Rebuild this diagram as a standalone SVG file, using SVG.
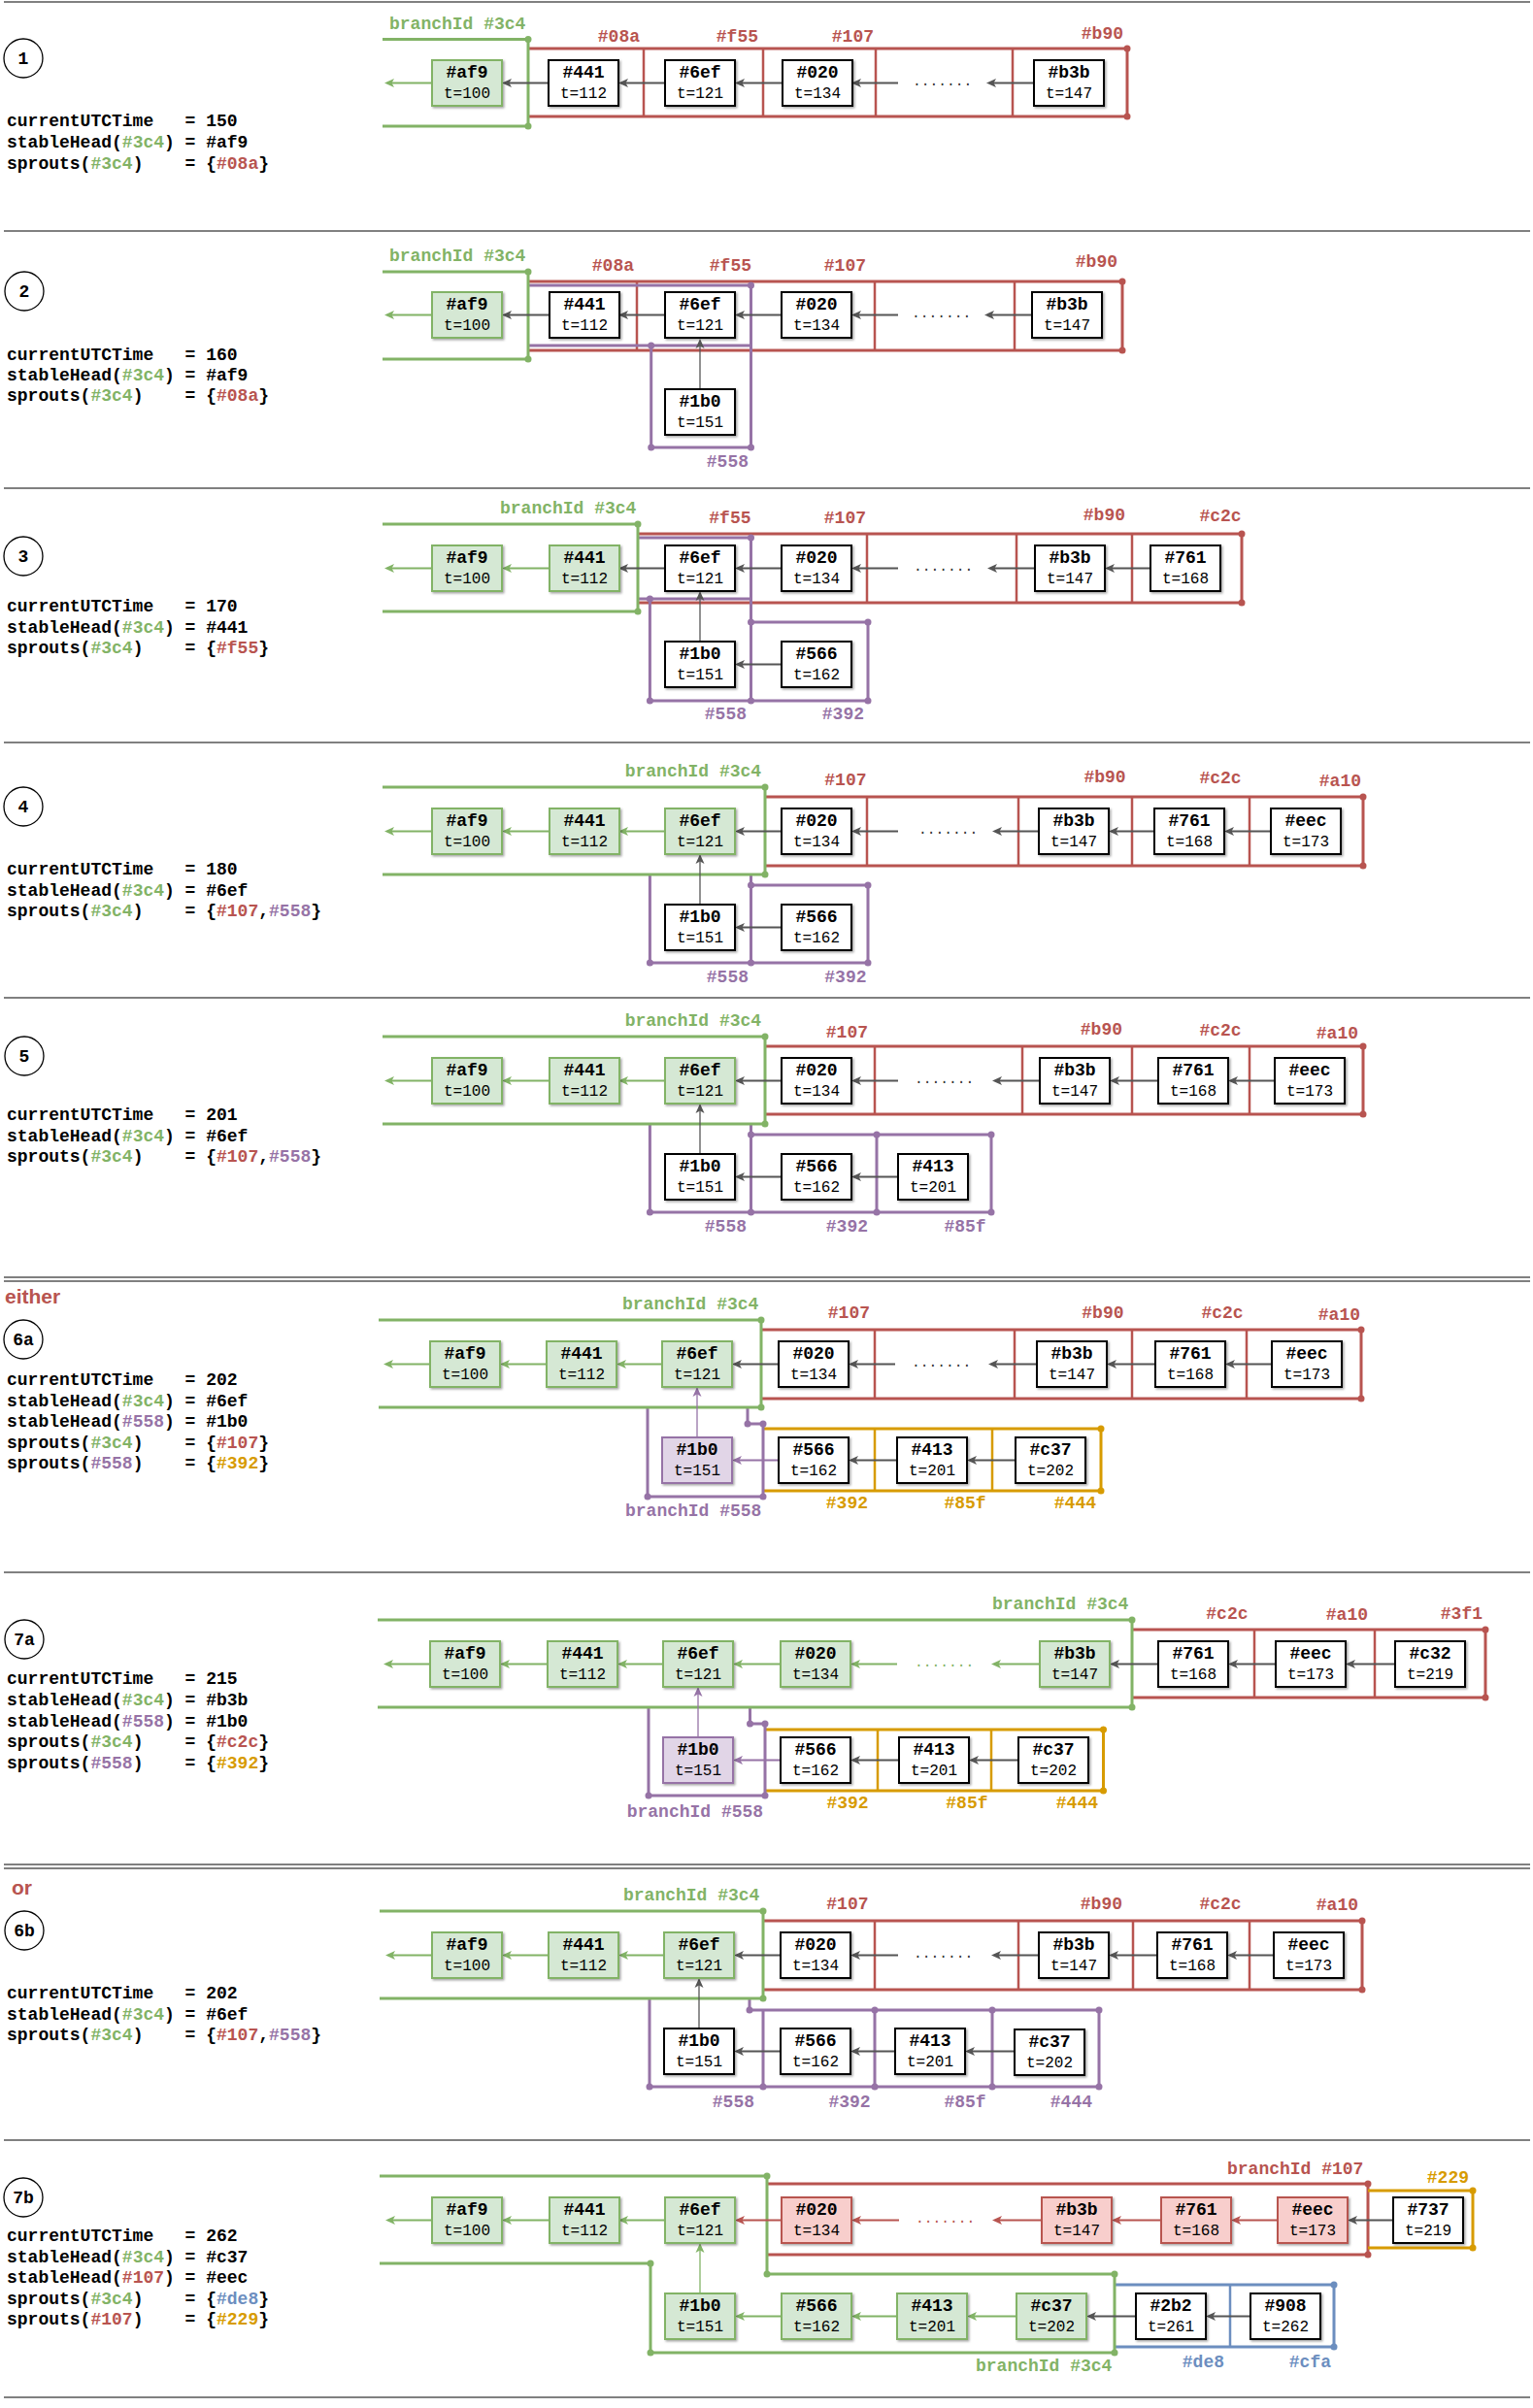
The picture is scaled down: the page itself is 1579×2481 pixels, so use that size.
<svg xmlns="http://www.w3.org/2000/svg" width="1579" height="2481" viewBox="0 0 1579 2481">
<style>
text{font-family:"Liberation Mono","DejaVu Sans Mono",monospace;}
.bg{fill:#fff}
.sep{stroke:#808080;stroke-width:2;fill:none}
.nw{fill:#fff;stroke:#000;stroke-width:2;filter:url(#sh)}
.ng{fill:#d5e8d4;stroke:#82b366;stroke-width:2;filter:url(#sh)}
.nr{fill:#f8cecc;stroke:#b85450;stroke-width:2;filter:url(#sh)}
.np{fill:#e1d5e7;stroke:#9673a6;stroke-width:2;filter:url(#sh)}
.tt{font-size:18px;font-weight:bold;text-anchor:middle;fill:#000}
.ts{font-size:16px;text-anchor:middle;fill:#000}
.lt{font-size:18px;font-weight:bold;fill:#000}
.lb{font-size:18px;font-weight:bold}
.e{text-anchor:end}
.cg{fill:#82b366}.cr{fill:#b85450}.cp{fill:#9673a6}.co{fill:#d79b00}.cb{fill:#6c8ebf}.ck{fill:#333}
.word{font-family:"Liberation Sans",Arial,sans-serif;font-size:21px;font-weight:bold;fill:#b85450}
.cir{fill:#fff;stroke:#000;stroke-width:1.3}
.lg{fill:none;stroke:#82b366;stroke-width:3}
.lr{fill:none;stroke:#b85450;stroke-width:3}
.lp{fill:none;stroke:#9673a6;stroke-width:3}
.lo{fill:none;stroke:#d79b00;stroke-width:3}
.lbl{fill:none;stroke:#6c8ebf;stroke-width:3}
.in{stroke-width:2.5}
.a{fill:none;stroke-width:2}
.ak{stroke:#555;marker-end:url(#mk)}
.ag{stroke:#82b366;marker-end:url(#mkg)}
.ap{stroke:#9673a6;marker-end:url(#mkp)}
.ar{stroke:#b85450;marker-end:url(#mkr)}
.thin{stroke-width:1.3}
.dots{font-size:14.6px}
</style>
<defs>
<filter id="sh" x="-10%" y="-10%" width="130%" height="130%"><feDropShadow dx="1.5" dy="1.5" stdDeviation="0.8" flood-color="#000" flood-opacity="0.35"/></filter>
<marker id="mk" viewBox="0 0 10 10" refX="7" refY="5" markerWidth="10" markerHeight="10" markerUnits="userSpaceOnUse" orient="auto"><path d="M0,0.5 L10,5 L0,9.5 L2.5,5 Z" fill="#555"/></marker>
<marker id="mkg" viewBox="0 0 10 10" refX="7" refY="5" markerWidth="10" markerHeight="10" markerUnits="userSpaceOnUse" orient="auto"><path d="M0,0.5 L10,5 L0,9.5 L2.5,5 Z" fill="#82b366"/></marker>
<marker id="mkp" viewBox="0 0 10 10" refX="7" refY="5" markerWidth="10" markerHeight="10" markerUnits="userSpaceOnUse" orient="auto"><path d="M0,0.5 L10,5 L0,9.5 L2.5,5 Z" fill="#9673a6"/></marker>
<marker id="mkr" viewBox="0 0 10 10" refX="7" refY="5" markerWidth="10" markerHeight="10" markerUnits="userSpaceOnUse" orient="auto"><path d="M0,0.5 L10,5 L0,9.5 L2.5,5 Z" fill="#b85450"/></marker>
</defs>
<rect class="bg" x="0" y="0" width="1579" height="2481"/>

<g id="separators">
<path class="sep" d="M4,2H1576M4,238H1576M4,503H1576M4,765H1576M4,1028H1576M4,1316H1576M4,1320H1576M4,1620H1576M4,1921H1576M4,1925H1576M4,2205H1576M4,2470H1576"/>
</g>

<g id="state-text">
<g id="s1"><circle class="cir" cx="24" cy="60" r="20"/><text class="tt" x="24" y="66">1</text>
<text class="lt" y="130"><tspan x="7">currentUTCTime</tspan><tspan x="190.6">=</tspan><tspan x="212.2">150</tspan></text>
<text class="lt" y="152"><tspan x="7">stableHead(</tspan><tspan class="cg">#3c4</tspan><tspan>)</tspan><tspan x="190.6">=</tspan><tspan x="212.2">#af9</tspan></text>
<text class="lt" y="174"><tspan x="7">sprouts(</tspan><tspan class="cg">#3c4</tspan><tspan>)</tspan><tspan x="190.6">=</tspan><tspan x="212.2">{</tspan><tspan class="cr">#08a</tspan><tspan>}</tspan></text></g>
<g id="s2"><circle class="cir" cx="25" cy="300" r="20"/><text class="tt" x="25" y="306">2</text>
<text class="lt" y="370.5"><tspan x="7">currentUTCTime</tspan><tspan x="190.6">=</tspan><tspan x="212.2">160</tspan></text>
<text class="lt" y="392"><tspan x="7">stableHead(</tspan><tspan class="cg">#3c4</tspan><tspan>)</tspan><tspan x="190.6">=</tspan><tspan x="212.2">#af9</tspan></text>
<text class="lt" y="413"><tspan x="7">sprouts(</tspan><tspan class="cg">#3c4</tspan><tspan>)</tspan><tspan x="190.6">=</tspan><tspan x="212.2">{</tspan><tspan class="cr">#08a</tspan><tspan>}</tspan></text></g>
<g id="s3"><circle class="cir" cx="24" cy="573" r="20"/><text class="tt" x="24" y="579">3</text>
<text class="lt" y="630"><tspan x="7">currentUTCTime</tspan><tspan x="190.6">=</tspan><tspan x="212.2">170</tspan></text>
<text class="lt" y="652"><tspan x="7">stableHead(</tspan><tspan class="cg">#3c4</tspan><tspan>)</tspan><tspan x="190.6">=</tspan><tspan x="212.2">#441</tspan></text>
<text class="lt" y="673"><tspan x="7">sprouts(</tspan><tspan class="cg">#3c4</tspan><tspan>)</tspan><tspan x="190.6">=</tspan><tspan x="212.2">{</tspan><tspan class="cr">#f55</tspan><tspan>}</tspan></text></g>
<g id="s4"><circle class="cir" cx="24" cy="831" r="20"/><text class="tt" x="24" y="837">4</text>
<text class="lt" y="900.5"><tspan x="7">currentUTCTime</tspan><tspan x="190.6">=</tspan><tspan x="212.2">180</tspan></text>
<text class="lt" y="922.5"><tspan x="7">stableHead(</tspan><tspan class="cg">#3c4</tspan><tspan>)</tspan><tspan x="190.6">=</tspan><tspan x="212.2">#6ef</tspan></text>
<text class="lt" y="944"><tspan x="7">sprouts(</tspan><tspan class="cg">#3c4</tspan><tspan>)</tspan><tspan x="190.6">=</tspan><tspan x="212.2">{</tspan><tspan class="cr">#107</tspan><tspan>,</tspan><tspan class="cp">#558</tspan><tspan>}</tspan></text></g>
<g id="s5"><circle class="cir" cx="25" cy="1088" r="20"/><text class="tt" x="25" y="1094">5</text>
<text class="lt" y="1154"><tspan x="7">currentUTCTime</tspan><tspan x="190.6">=</tspan><tspan x="212.2">201</tspan></text>
<text class="lt" y="1176"><tspan x="7">stableHead(</tspan><tspan class="cg">#3c4</tspan><tspan>)</tspan><tspan x="190.6">=</tspan><tspan x="212.2">#6ef</tspan></text>
<text class="lt" y="1197"><tspan x="7">sprouts(</tspan><tspan class="cg">#3c4</tspan><tspan>)</tspan><tspan x="190.6">=</tspan><tspan x="212.2">{</tspan><tspan class="cr">#107</tspan><tspan>,</tspan><tspan class="cp">#558</tspan><tspan>}</tspan></text></g>
<g id="s6a"><text class="word" x="5" y="1343">either</text><circle class="cir" cx="24" cy="1380" r="20"/><text class="tt" x="24" y="1386">6a</text>
<text class="lt" y="1426.5"><tspan x="7">currentUTCTime</tspan><tspan x="190.6">=</tspan><tspan x="212.2">202</tspan></text>
<text class="lt" y="1448.5"><tspan x="7">stableHead(</tspan><tspan class="cg">#3c4</tspan><tspan>)</tspan><tspan x="190.6">=</tspan><tspan x="212.2">#6ef</tspan></text>
<text class="lt" y="1470"><tspan x="7">stableHead(</tspan><tspan class="cp">#558</tspan><tspan>)</tspan><tspan x="190.6">=</tspan><tspan x="212.2">#1b0</tspan></text>
<text class="lt" y="1492"><tspan x="7">sprouts(</tspan><tspan class="cg">#3c4</tspan><tspan>)</tspan><tspan x="190.6">=</tspan><tspan x="212.2">{</tspan><tspan class="cr">#107</tspan><tspan>}</tspan></text>
<text class="lt" y="1513"><tspan x="7">sprouts(</tspan><tspan class="cp">#558</tspan><tspan>)</tspan><tspan x="190.6">=</tspan><tspan x="212.2">{</tspan><tspan class="co">#392</tspan><tspan>}</tspan></text></g>
<g id="s7a"><circle class="cir" cx="25" cy="1689" r="20"/><text class="tt" x="25" y="1695">7a</text>
<text class="lt" y="1735"><tspan x="7">currentUTCTime</tspan><tspan x="190.6">=</tspan><tspan x="212.2">215</tspan></text>
<text class="lt" y="1757"><tspan x="7">stableHead(</tspan><tspan class="cg">#3c4</tspan><tspan>)</tspan><tspan x="190.6">=</tspan><tspan x="212.2">#b3b</tspan></text>
<text class="lt" y="1778.5"><tspan x="7">stableHead(</tspan><tspan class="cp">#558</tspan><tspan>)</tspan><tspan x="190.6">=</tspan><tspan x="212.2">#1b0</tspan></text>
<text class="lt" y="1800"><tspan x="7">sprouts(</tspan><tspan class="cg">#3c4</tspan><tspan>)</tspan><tspan x="190.6">=</tspan><tspan x="212.2">{</tspan><tspan class="cr">#c2c</tspan><tspan>}</tspan></text>
<text class="lt" y="1821.5"><tspan x="7">sprouts(</tspan><tspan class="cp">#558</tspan><tspan>)</tspan><tspan x="190.6">=</tspan><tspan x="212.2">{</tspan><tspan class="co">#392</tspan><tspan>}</tspan></text></g>
<g id="s6b"><text class="word" x="12" y="1952">or</text><circle class="cir" cx="25" cy="1989" r="20"/><text class="tt" x="25" y="1995">6b</text>
<text class="lt" y="2058.5"><tspan x="7">currentUTCTime</tspan><tspan x="190.6">=</tspan><tspan x="212.2">202</tspan></text>
<text class="lt" y="2080.5"><tspan x="7">stableHead(</tspan><tspan class="cg">#3c4</tspan><tspan>)</tspan><tspan x="190.6">=</tspan><tspan x="212.2">#6ef</tspan></text>
<text class="lt" y="2102"><tspan x="7">sprouts(</tspan><tspan class="cg">#3c4</tspan><tspan>)</tspan><tspan x="190.6">=</tspan><tspan x="212.2">{</tspan><tspan class="cr">#107</tspan><tspan>,</tspan><tspan class="cp">#558</tspan><tspan>}</tspan></text></g>
<g id="s7b"><circle class="cir" cx="24" cy="2264" r="20"/><text class="tt" x="24" y="2270">7b</text>
<text class="lt" y="2309"><tspan x="7">currentUTCTime</tspan><tspan x="190.6">=</tspan><tspan x="212.2">262</tspan></text>
<text class="lt" y="2330.5"><tspan x="7">stableHead(</tspan><tspan class="cg">#3c4</tspan><tspan>)</tspan><tspan x="190.6">=</tspan><tspan x="212.2">#c37</tspan></text>
<text class="lt" y="2352"><tspan x="7">stableHead(</tspan><tspan class="cr">#107</tspan><tspan>)</tspan><tspan x="190.6">=</tspan><tspan x="212.2">#eec</tspan></text>
<text class="lt" y="2373.5"><tspan x="7">sprouts(</tspan><tspan class="cg">#3c4</tspan><tspan>)</tspan><tspan x="190.6">=</tspan><tspan x="212.2">{</tspan><tspan class="cb">#de8</tspan><tspan>}</tspan></text>
<text class="lt" y="2395"><tspan x="7">sprouts(</tspan><tspan class="cr">#107</tspan><tspan>)</tspan><tspan x="190.6">=</tspan><tspan x="212.2">{</tspan><tspan class="co">#229</tspan><tspan>}</tspan></text></g>
</g>

<g id="regions">
<!-- P1 -->
<polyline class="lr" points="544,50 1161,50 1161,120 544,120"/>
<path class="lr in" d="M663,50V120M786,50V120M902,50V120M1043,50V120"/>
<polyline class="lg" points="394,40.5 544,40.5 544,130 394,130"/>
<g class="cr"><circle cx="1161" cy="50" r="3.5"/><circle cx="1161" cy="120" r="3.5"/></g>
<g class="cg"><circle cx="544" cy="40.5" r="3.5"/><circle cx="544" cy="130" r="3.5"/></g>
<!-- P2 -->
<polyline class="lr" points="544,290 1156,290 1156,361 544,361"/>
<path class="lr in" d="M656,290V361M901,290V361M1045,290V361"/>
<path class="lp" d="M544,294H773.5V461H670.7V356M544,356H773.5"/>
<polyline class="lg" points="394,280 544,280 544,370 394,370"/>
<g class="cr"><circle cx="1156" cy="290" r="3.5"/><circle cx="1156" cy="361" r="3.5"/></g>
<g class="cp"><circle cx="773.5" cy="294" r="3.5"/><circle cx="670.7" cy="356" r="3.5"/><circle cx="670.7" cy="461" r="3.5"/><circle cx="773.5" cy="461" r="3.5"/></g>
<g class="cg"><circle cx="544" cy="280" r="3.5"/><circle cx="544" cy="370" r="3.5"/></g>
<!-- P3 -->
<polyline class="lr" points="657,550 1279,550 1279,621 657,621"/>
<path class="lr in" d="M893,550V621M1047,550V621M1166,550V621"/>
<path class="lp" d="M657,554H773.5V722M657,617H773.5M669.4,617V722H894V641H773.5"/>
<polyline class="lg" points="394,540 657,540 657,630 394,630"/>
<g class="cr"><circle cx="1279" cy="550" r="3.5"/><circle cx="1279" cy="621" r="3.5"/></g>
<g class="cp"><circle cx="773.5" cy="554" r="3.5"/><circle cx="669.4" cy="617" r="3.5"/><circle cx="773.5" cy="641" r="3.5"/><circle cx="894" cy="641" r="3.5"/><circle cx="669.4" cy="722" r="3.5"/><circle cx="773.5" cy="722" r="3.5"/><circle cx="894" cy="722" r="3.5"/></g>
<g class="cg"><circle cx="657" cy="540" r="3.5"/><circle cx="657" cy="630" r="3.5"/></g>
<!-- P4 -->
<polyline class="lr" points="788,821 1404,821 1404,892 788,892"/>
<path class="lr in" d="M893,821V892M1049,821V892M1166,821V892M1287,821V892"/>
<path class="lp" d="M669.4,901V992H894V912H773.5M773.5,901V992"/>
<polyline class="lg" points="394,811 788,811 788,901 394,901"/>
<g class="cr"><circle cx="1404" cy="821" r="3.5"/><circle cx="1404" cy="892" r="3.5"/></g>
<g class="cp"><circle cx="773.5" cy="912" r="3.5"/><circle cx="894" cy="912" r="3.5"/><circle cx="669.4" cy="992" r="3.5"/><circle cx="773.5" cy="992" r="3.5"/><circle cx="894" cy="992" r="3.5"/></g>
<g class="cg"><circle cx="788" cy="811" r="3.5"/><circle cx="788" cy="901" r="3.5"/></g>
<!-- P5 -->
<polyline class="lr" points="788,1078 1404,1078 1404,1148 788,1148"/>
<path class="lr in" d="M901,1078V1148M1053,1078V1148M1166,1078V1148M1287,1078V1148"/>
<path class="lp" d="M669.4,1158V1249H1021V1169H773.5M773.5,1158V1249M903,1169V1249"/>
<polyline class="lg" points="394,1068 788,1068 788,1158 394,1158"/>
<g class="cr"><circle cx="1404" cy="1078" r="3.5"/><circle cx="1404" cy="1148" r="3.5"/></g>
<g class="cp"><circle cx="773.5" cy="1169" r="3.5"/><circle cx="903" cy="1169" r="3.5"/><circle cx="1021" cy="1169" r="3.5"/><circle cx="669.4" cy="1249" r="3.5"/><circle cx="773.5" cy="1249" r="3.5"/><circle cx="903" cy="1249" r="3.5"/><circle cx="1021" cy="1249" r="3.5"/></g>
<g class="cg"><circle cx="788" cy="1068" r="3.5"/><circle cx="788" cy="1158" r="3.5"/></g>
<!-- 6a -->
<polyline class="lr" points="784,1370 1402,1370 1402,1441 784,1441"/>
<path class="lr in" d="M901,1370V1441M1045,1370V1441M1166,1370V1441M1284,1370V1441"/>
<polyline class="lo" points="786,1472 1134,1472 1134,1536 786,1536"/>
<path class="lo in" d="M901,1472V1536M1022,1472V1536"/>
<path class="lp" d="M667,1450V1542H786V1467H770V1450"/>
<polyline class="lg" points="390,1360 784,1360 784,1450 390,1450"/>
<g class="cr"><circle cx="1402" cy="1370" r="3.5"/><circle cx="1402" cy="1441" r="3.5"/></g>
<g class="co"><circle cx="1134" cy="1472" r="3.5"/><circle cx="1134" cy="1536" r="3.5"/></g>
<g class="cp"><circle cx="770" cy="1467" r="3.5"/><circle cx="786" cy="1467" r="3.5"/><circle cx="667" cy="1542" r="3.5"/><circle cx="786" cy="1542" r="3.5"/></g>
<g class="cg"><circle cx="784" cy="1360" r="3.5"/><circle cx="784" cy="1450" r="3.5"/></g>
<!-- 7a -->
<polyline class="lr" points="1166,1679 1530,1679 1530,1749 1166,1749"/>
<path class="lr in" d="M1292,1679V1749M1416,1679V1749"/>
<polyline class="lo" points="788,1782 1136.5,1782 1136.5,1845 788,1845"/>
<path class="lo in" d="M904,1782V1845M1021,1782V1845"/>
<path class="lp" d="M668,1759V1850H788V1776H772.5V1759"/>
<polyline class="lg" points="389,1669 1166,1669 1166,1759 389,1759"/>
<g class="cr"><circle cx="1530" cy="1679" r="3.5"/><circle cx="1530" cy="1749" r="3.5"/></g>
<g class="co"><circle cx="1136.5" cy="1782" r="3.5"/><circle cx="1136.5" cy="1845" r="3.5"/></g>
<g class="cp"><circle cx="772.5" cy="1776" r="3.5"/><circle cx="788" cy="1776" r="3.5"/><circle cx="668" cy="1850" r="3.5"/><circle cx="788" cy="1850" r="3.5"/></g>
<g class="cg"><circle cx="1166" cy="1669" r="3.5"/><circle cx="1166" cy="1759" r="3.5"/></g>
<!-- 6b -->
<polyline class="lr" points="786,1979 1403,1979 1403,2050 786,2050"/>
<path class="lr in" d="M901,1979V2050M1049,1979V2050M1167,1979V2050M1287,1979V2050"/>
<path class="lp" d="M669,2059V2150H1132V2071H772V2059M786,2071V2150M901,2071V2150M1022,2071V2150"/>
<polyline class="lg" points="391,1969 786,1969 786,2059 391,2059"/>
<g class="cr"><circle cx="1403" cy="1979" r="3.5"/><circle cx="1403" cy="2050" r="3.5"/></g>
<g class="cp"><circle cx="772" cy="2071" r="3.5"/><circle cx="901" cy="2071" r="3.5"/><circle cx="1022" cy="2071" r="3.5"/><circle cx="1132" cy="2071" r="3.5"/><circle cx="669" cy="2150" r="3.5"/><circle cx="786" cy="2150" r="3.5"/><circle cx="901" cy="2150" r="3.5"/><circle cx="1022" cy="2150" r="3.5"/><circle cx="1132" cy="2150" r="3.5"/></g>
<g class="cg"><circle cx="786" cy="1969" r="3.5"/><circle cx="786" cy="2059" r="3.5"/></g>
<!-- 7b -->
<polyline class="lr" points="790,2250 1409,2250 1409,2323 790,2323"/>
<polyline class="lo" points="1409,2257 1517,2257 1517,2316 1409,2316"/>
<polyline class="lbl" points="1148,2354 1374,2354 1374,2418 1148,2418"/>
<path class="lbl in" d="M1267,2354V2418"/>
<polyline class="lg" points="391,2242 790,2242 790,2343 1148,2343 1148,2424 670,2424 670,2332 391,2332"/>
<g class="cr"><circle cx="1409" cy="2250" r="3.5"/><circle cx="1409" cy="2323" r="3.5"/></g>
<g class="co"><circle cx="1517" cy="2257" r="3.5"/><circle cx="1517" cy="2316" r="3.5"/></g>
<g class="cb"><circle cx="1374" cy="2354" r="3.5"/><circle cx="1374" cy="2418" r="3.5"/></g>
<g class="cg"><circle cx="790" cy="2242" r="3.5"/><circle cx="790" cy="2343" r="3.5"/><circle cx="1148" cy="2343" r="3.5"/><circle cx="1148" cy="2424" r="3.5"/><circle cx="670" cy="2424" r="3.5"/><circle cx="670" cy="2332" r="3.5"/></g>
</g>

<g id="region-labels">
<text class="lb cg" x="401" y="30">branchId #3c4</text>
<text class="lb cr e" x="659" y="43">#08a</text><text class="lb cr e" x="781" y="43">#f55</text><text class="lb cr e" x="900" y="43">#107</text><text class="lb cr e" x="1157" y="40">#b90</text>

<text class="lb cg" x="401" y="269">branchId #3c4</text>
<text class="lb cr e" x="653" y="279">#08a</text><text class="lb cr e" x="774" y="279">#f55</text><text class="lb cr e" x="892" y="279">#107</text><text class="lb cr e" x="1151" y="275">#b90</text>
<text class="lb cp e" x="771" y="481">#558</text>

<text class="lb cg" x="515" y="529">branchId #3c4</text>
<text class="lb cr e" x="773.5" y="539">#f55</text><text class="lb cr e" x="892" y="539">#107</text><text class="lb cr e" x="1159" y="536">#b90</text><text class="lb cr e" x="1278.6" y="537">#c2c</text>
<text class="lb cp e" x="769" y="741">#558</text><text class="lb cp e" x="890" y="741">#392</text>

<text class="lb cg" x="643.7" y="800">branchId #3c4</text>
<text class="lb cr e" x="892.5" y="809">#107</text><text class="lb cr e" x="1159.6" y="806">#b90</text><text class="lb cr e" x="1278.6" y="807">#c2c</text><text class="lb cr e" x="1402" y="810">#a10</text>
<text class="lb cp e" x="771" y="1012">#558</text><text class="lb cp e" x="892.5" y="1012">#392</text>

<text class="lb cg" x="643.7" y="1057">branchId #3c4</text>
<text class="lb cr e" x="894" y="1069">#107</text><text class="lb cr e" x="1156" y="1066">#b90</text><text class="lb cr e" x="1278.6" y="1067">#c2c</text><text class="lb cr e" x="1399" y="1070">#a10</text>
<text class="lb cp e" x="769" y="1269">#558</text><text class="lb cp e" x="894" y="1269">#392</text><text class="lb cp e" x="1015.6" y="1269">#85f</text>

<text class="lb cg" x="641" y="1349">branchId #3c4</text>
<text class="lb cr e" x="896" y="1358">#107</text><text class="lb cr e" x="1157.5" y="1358">#b90</text><text class="lb cr e" x="1280.6" y="1358">#c2c</text><text class="lb cr e" x="1401" y="1360">#a10</text>
<text class="lb co e" x="894" y="1554">#392</text><text class="lb co e" x="1015.6" y="1554">#85f</text><text class="lb co e" x="1129" y="1554">#444</text>
<text class="lb cp" x="644" y="1562">branchId #558</text>

<text class="lb cg" x="1022" y="1658">branchId #3c4</text>
<text class="lb cr e" x="1285.5" y="1668">#c2c</text><text class="lb cr e" x="1409" y="1669">#a10</text><text class="lb cr e" x="1527" y="1668">#3f1</text>
<text class="lb co e" x="894.6" y="1863">#392</text><text class="lb co e" x="1017.5" y="1863">#85f</text><text class="lb co e" x="1131" y="1863">#444</text>
<text class="lb cp" x="645.7" y="1872">branchId #558</text>

<text class="lb cg" x="642" y="1958">branchId #3c4</text>
<text class="lb cr e" x="894.5" y="1967">#107</text><text class="lb cr e" x="1156" y="1967">#b90</text><text class="lb cr e" x="1278.6" y="1967">#c2c</text><text class="lb cr e" x="1399" y="1968">#a10</text>
<text class="lb cp e" x="777" y="2171">#558</text><text class="lb cp e" x="896.6" y="2171">#392</text><text class="lb cp e" x="1015.6" y="2171">#85f</text><text class="lb cp e" x="1125" y="2171">#444</text>

<text class="lb cr" x="1264" y="2240">branchId #107</text>
<text class="lb co e" x="1513" y="2249">#229</text>
<text class="lb cb e" x="1261" y="2439">#de8</text><text class="lb cb e" x="1371" y="2439">#cfa</text>
<text class="lb cg" x="1005" y="2443">branchId #3c4</text>
</g>

<g id="connectors">
<path class="a ag" d="M445,85.5H399"/>
<path class="a ak" d="M565,85.5H520"/><path class="a ak" d="M685,85.5H640"/><path class="a ak" d="M806,85.5H760"/><path class="a ak" d="M925,85.5H880"/><path class="a ak" d="M1065,85.5H1019"/>

<path class="a ag" d="M445,324.5H399"/>
<path class="a ak" d="M566,324.5H520"/><path class="a ak" d="M685,324.5H640"/><path class="a ak" d="M805,324.5H760"/><path class="a ak" d="M925,324.5H880"/><path class="a ak" d="M1063,324.5H1017"/>
<path class="a ak thin" d="M721,401V352"/>

<path class="a ag" d="M445,585.5H399"/><path class="a ag" d="M566,585.5H520"/>
<path class="a ak" d="M685,585.5H640"/><path class="a ak" d="M805,585.5H760"/><path class="a ak" d="M925,585.5H880"/><path class="a ak" d="M1066,585.5H1020"/><path class="a ak" d="M1185,585.5H1141"/>
<path class="a ak" d="M805,684.5H760"/>
<path class="a ak thin" d="M721,661V612"/>

<path class="a ag" d="M445,856.5H399"/><path class="a ag" d="M566,856.5H520"/><path class="a ag" d="M685,856.5H640"/>
<path class="a ak" d="M805,856.5H760"/><path class="a ak" d="M925,856.5H880"/><path class="a ak" d="M1070,856.5H1025"/><path class="a ak" d="M1189,856.5H1145"/><path class="a ak" d="M1309,856.5H1264"/>
<path class="a ak" d="M805,955.5H760"/>
<path class="a ak thin" d="M721,932V883"/>

<path class="a ag" d="M445,1113.5H399"/><path class="a ag" d="M566,1113.5H520"/><path class="a ag" d="M685,1113.5H640"/>
<path class="a ak" d="M805,1113.5H760"/><path class="a ak" d="M925,1113.5H880"/><path class="a ak" d="M1071,1113.5H1025"/><path class="a ak" d="M1193,1113.5H1146"/><path class="a ak" d="M1313,1113.5H1268"/>
<path class="a ak" d="M805,1212.5H760"/><path class="a ak" d="M925,1212.5H880"/>
<path class="a ak thin" d="M721,1189V1140"/>

<path class="a ag" d="M443,1405.5H398"/><path class="a ag" d="M563,1405.5H518"/><path class="a ag" d="M682,1405.5H638"/>
<path class="a ak" d="M802,1405.5H757"/><path class="a ak" d="M922,1405.5H877"/><path class="a ak" d="M1068,1405.5H1021"/><path class="a ak" d="M1190,1405.5H1143"/><path class="a ak" d="M1310,1405.5H1265"/>
<path class="a ap" d="M802,1504.5H757"/><path class="a ak" d="M924,1504.5H877"/><path class="a ak" d="M1046,1504.5H999"/>
<path class="a ap thin" d="M718,1481V1432"/>

<path class="a ag" d="M443,1714.5H398"/><path class="a ag" d="M564,1714.5H518"/><path class="a ag" d="M683,1714.5H639"/><path class="a ag" d="M804,1714.5H758"/><path class="a ag" d="M924,1714.5H879"/><path class="a ag" d="M1071,1714.5H1024"/>
<path class="a ak" d="M1193,1714.5H1146"/><path class="a ak" d="M1314,1714.5H1268"/><path class="a ak" d="M1437,1714.5H1389"/>
<path class="a ap" d="M804,1813.5H758"/><path class="a ak" d="M926,1813.5H879"/><path class="a ak" d="M1049,1813.5H1001"/>
<path class="a ap thin" d="M719,1790V1741"/>

<path class="a ag" d="M445,2014.5H400"/><path class="a ag" d="M565,2014.5H520"/><path class="a ag" d="M684,2014.5H640"/>
<path class="a ak" d="M804,2014.5H759"/><path class="a ak" d="M925,2014.5H879"/><path class="a ak" d="M1070,2014.5H1024"/><path class="a ak" d="M1192,2014.5H1145"/><path class="a ak" d="M1312,2014.5H1267"/>
<path class="a ak" d="M804,2113.5H759"/><path class="a ak" d="M922,2113.5H879"/><path class="a ak" d="M1045,2113.5H997"/>
<path class="a ak thin" d="M720,2090V2041"/>

<path class="a ag" d="M445,2287.5H400"/><path class="a ag" d="M566,2287.5H520"/><path class="a ag" d="M685,2287.5H640"/>
<path class="a ar" d="M805,2287.5H760"/><path class="a ar" d="M926,2287.5H880"/><path class="a ar" d="M1073,2287.5H1025"/><path class="a ar" d="M1196,2287.5H1148"/><path class="a ar" d="M1316,2287.5H1271"/>
<path class="a ak" d="M1435,2287.5H1391"/>
<path class="a ag" d="M805,2386.5H760"/><path class="a ag" d="M924,2386.5H880"/><path class="a ag" d="M1047,2386.5H999"/>
<path class="a ak" d="M1170,2386.5H1122"/><path class="a ak" d="M1288,2386.5H1245"/>
<path class="a ag thin" d="M721,2363V2314"/>

<text class="dots ck" x="940" y="87.5">.......</text>
<text class="dots ck" x="939" y="326.5">.......</text>
<text class="dots ck" x="941" y="587.5">.......</text>
<text class="dots ck" x="946" y="858.5">.......</text>
<text class="dots ck" x="942" y="1115.5">.......</text>
<text class="dots ck" x="939" y="1407.5">.......</text>
<text class="dots cg" x="942" y="1716.5">.......</text>
<text class="dots ck" x="941" y="2016.5">.......</text>
<text class="dots cr" x="943" y="2289.5">.......</text>
</g>

<g id="nodes">
<g id="p1-af9"><rect class="ng" x="445" y="62" width="72" height="47"/><text class="tt" x="481" y="79.5">#af9</text><text class="ts" x="481" y="101">t=100</text></g>
<g id="p1-441"><rect class="nw" x="565" y="62" width="72" height="47"/><text class="tt" x="601" y="79.5">#441</text><text class="ts" x="601" y="101">t=112</text></g>
<g id="p1-6ef"><rect class="nw" x="685" y="62" width="72" height="47"/><text class="tt" x="721" y="79.5">#6ef</text><text class="ts" x="721" y="101">t=121</text></g>
<g id="p1-020"><rect class="nw" x="806" y="62" width="72" height="47"/><text class="tt" x="842" y="79.5">#020</text><text class="ts" x="842" y="101">t=134</text></g>
<g id="p1-b3b"><rect class="nw" x="1065" y="62" width="72" height="47"/><text class="tt" x="1101" y="79.5">#b3b</text><text class="ts" x="1101" y="101">t=147</text></g>

<g id="p2-af9"><rect class="ng" x="445" y="301" width="72" height="47"/><text class="tt" x="481" y="318.5">#af9</text><text class="ts" x="481" y="340">t=100</text></g>
<g id="p2-441"><rect class="nw" x="566" y="301" width="72" height="47"/><text class="tt" x="602" y="318.5">#441</text><text class="ts" x="602" y="340">t=112</text></g>
<g id="p2-6ef"><rect class="nw" x="685" y="301" width="72" height="47"/><text class="tt" x="721" y="318.5">#6ef</text><text class="ts" x="721" y="340">t=121</text></g>
<g id="p2-020"><rect class="nw" x="805" y="301" width="72" height="47"/><text class="tt" x="841" y="318.5">#020</text><text class="ts" x="841" y="340">t=134</text></g>
<g id="p2-b3b"><rect class="nw" x="1063" y="301" width="72" height="47"/><text class="tt" x="1099" y="318.5">#b3b</text><text class="ts" x="1099" y="340">t=147</text></g>
<g id="p2-1b0"><rect class="nw" x="685" y="401" width="72" height="47"/><text class="tt" x="721" y="418.5">#1b0</text><text class="ts" x="721" y="440">t=151</text></g>

<g id="p3-af9"><rect class="ng" x="445" y="562" width="72" height="47"/><text class="tt" x="481" y="579.5">#af9</text><text class="ts" x="481" y="601">t=100</text></g>
<g id="p3-441"><rect class="ng" x="566" y="562" width="72" height="47"/><text class="tt" x="602" y="579.5">#441</text><text class="ts" x="602" y="601">t=112</text></g>
<g id="p3-6ef"><rect class="nw" x="685" y="562" width="72" height="47"/><text class="tt" x="721" y="579.5">#6ef</text><text class="ts" x="721" y="601">t=121</text></g>
<g id="p3-020"><rect class="nw" x="805" y="562" width="72" height="47"/><text class="tt" x="841" y="579.5">#020</text><text class="ts" x="841" y="601">t=134</text></g>
<g id="p3-b3b"><rect class="nw" x="1066" y="562" width="72" height="47"/><text class="tt" x="1102" y="579.5">#b3b</text><text class="ts" x="1102" y="601">t=147</text></g>
<g id="p3-761"><rect class="nw" x="1185" y="562" width="72" height="47"/><text class="tt" x="1221" y="579.5">#761</text><text class="ts" x="1221" y="601">t=168</text></g>
<g id="p3-1b0"><rect class="nw" x="685" y="661" width="72" height="47"/><text class="tt" x="721" y="678.5">#1b0</text><text class="ts" x="721" y="700">t=151</text></g>
<g id="p3-566"><rect class="nw" x="805" y="661" width="72" height="47"/><text class="tt" x="841" y="678.5">#566</text><text class="ts" x="841" y="700">t=162</text></g>

<g id="p4-af9"><rect class="ng" x="445" y="833" width="72" height="47"/><text class="tt" x="481" y="850.5">#af9</text><text class="ts" x="481" y="872">t=100</text></g>
<g id="p4-441"><rect class="ng" x="566" y="833" width="72" height="47"/><text class="tt" x="602" y="850.5">#441</text><text class="ts" x="602" y="872">t=112</text></g>
<g id="p4-6ef"><rect class="ng" x="685" y="833" width="72" height="47"/><text class="tt" x="721" y="850.5">#6ef</text><text class="ts" x="721" y="872">t=121</text></g>
<g id="p4-020"><rect class="nw" x="805" y="833" width="72" height="47"/><text class="tt" x="841" y="850.5">#020</text><text class="ts" x="841" y="872">t=134</text></g>
<g id="p4-b3b"><rect class="nw" x="1070" y="833" width="72" height="47"/><text class="tt" x="1106" y="850.5">#b3b</text><text class="ts" x="1106" y="872">t=147</text></g>
<g id="p4-761"><rect class="nw" x="1189" y="833" width="72" height="47"/><text class="tt" x="1225" y="850.5">#761</text><text class="ts" x="1225" y="872">t=168</text></g>
<g id="p4-eec"><rect class="nw" x="1309" y="833" width="72" height="47"/><text class="tt" x="1345" y="850.5">#eec</text><text class="ts" x="1345" y="872">t=173</text></g>
<g id="p4-1b0"><rect class="nw" x="685" y="932" width="72" height="47"/><text class="tt" x="721" y="949.5">#1b0</text><text class="ts" x="721" y="971">t=151</text></g>
<g id="p4-566"><rect class="nw" x="805" y="932" width="72" height="47"/><text class="tt" x="841" y="949.5">#566</text><text class="ts" x="841" y="971">t=162</text></g>

<g id="p5-af9"><rect class="ng" x="445" y="1090" width="72" height="47"/><text class="tt" x="481" y="1107.5">#af9</text><text class="ts" x="481" y="1129">t=100</text></g>
<g id="p5-441"><rect class="ng" x="566" y="1090" width="72" height="47"/><text class="tt" x="602" y="1107.5">#441</text><text class="ts" x="602" y="1129">t=112</text></g>
<g id="p5-6ef"><rect class="ng" x="685" y="1090" width="72" height="47"/><text class="tt" x="721" y="1107.5">#6ef</text><text class="ts" x="721" y="1129">t=121</text></g>
<g id="p5-020"><rect class="nw" x="805" y="1090" width="72" height="47"/><text class="tt" x="841" y="1107.5">#020</text><text class="ts" x="841" y="1129">t=134</text></g>
<g id="p5-b3b"><rect class="nw" x="1071" y="1090" width="72" height="47"/><text class="tt" x="1107" y="1107.5">#b3b</text><text class="ts" x="1107" y="1129">t=147</text></g>
<g id="p5-761"><rect class="nw" x="1193" y="1090" width="72" height="47"/><text class="tt" x="1229" y="1107.5">#761</text><text class="ts" x="1229" y="1129">t=168</text></g>
<g id="p5-eec"><rect class="nw" x="1313" y="1090" width="72" height="47"/><text class="tt" x="1349" y="1107.5">#eec</text><text class="ts" x="1349" y="1129">t=173</text></g>
<g id="p5-1b0"><rect class="nw" x="685" y="1189" width="72" height="47"/><text class="tt" x="721" y="1206.5">#1b0</text><text class="ts" x="721" y="1228">t=151</text></g>
<g id="p5-566"><rect class="nw" x="805" y="1189" width="72" height="47"/><text class="tt" x="841" y="1206.5">#566</text><text class="ts" x="841" y="1228">t=162</text></g>
<g id="p5-413"><rect class="nw" x="925" y="1189" width="72" height="47"/><text class="tt" x="961" y="1206.5">#413</text><text class="ts" x="961" y="1228">t=201</text></g>

<g id="p6a-af9"><rect class="ng" x="443" y="1382" width="72" height="47"/><text class="tt" x="479" y="1399.5">#af9</text><text class="ts" x="479" y="1421">t=100</text></g>
<g id="p6a-441"><rect class="ng" x="563" y="1382" width="72" height="47"/><text class="tt" x="599" y="1399.5">#441</text><text class="ts" x="599" y="1421">t=112</text></g>
<g id="p6a-6ef"><rect class="ng" x="682" y="1382" width="72" height="47"/><text class="tt" x="718" y="1399.5">#6ef</text><text class="ts" x="718" y="1421">t=121</text></g>
<g id="p6a-020"><rect class="nw" x="802" y="1382" width="72" height="47"/><text class="tt" x="838" y="1399.5">#020</text><text class="ts" x="838" y="1421">t=134</text></g>
<g id="p6a-b3b"><rect class="nw" x="1068" y="1382" width="72" height="47"/><text class="tt" x="1104" y="1399.5">#b3b</text><text class="ts" x="1104" y="1421">t=147</text></g>
<g id="p6a-761"><rect class="nw" x="1190" y="1382" width="72" height="47"/><text class="tt" x="1226" y="1399.5">#761</text><text class="ts" x="1226" y="1421">t=168</text></g>
<g id="p6a-eec"><rect class="nw" x="1310" y="1382" width="72" height="47"/><text class="tt" x="1346" y="1399.5">#eec</text><text class="ts" x="1346" y="1421">t=173</text></g>
<g id="p6a-1b0"><rect class="np" x="682" y="1481" width="72" height="47"/><text class="tt" x="718" y="1498.5">#1b0</text><text class="ts" x="718" y="1520">t=151</text></g>
<g id="p6a-566"><rect class="nw" x="802" y="1481" width="72" height="47"/><text class="tt" x="838" y="1498.5">#566</text><text class="ts" x="838" y="1520">t=162</text></g>
<g id="p6a-413"><rect class="nw" x="924" y="1481" width="72" height="47"/><text class="tt" x="960" y="1498.5">#413</text><text class="ts" x="960" y="1520">t=201</text></g>
<g id="p6a-c37"><rect class="nw" x="1046" y="1481" width="72" height="47"/><text class="tt" x="1082" y="1498.5">#c37</text><text class="ts" x="1082" y="1520">t=202</text></g>

<g id="p7a-af9"><rect class="ng" x="443" y="1691" width="72" height="47"/><text class="tt" x="479" y="1708.5">#af9</text><text class="ts" x="479" y="1730">t=100</text></g>
<g id="p7a-441"><rect class="ng" x="564" y="1691" width="72" height="47"/><text class="tt" x="600" y="1708.5">#441</text><text class="ts" x="600" y="1730">t=112</text></g>
<g id="p7a-6ef"><rect class="ng" x="683" y="1691" width="72" height="47"/><text class="tt" x="719" y="1708.5">#6ef</text><text class="ts" x="719" y="1730">t=121</text></g>
<g id="p7a-020"><rect class="ng" x="804" y="1691" width="72" height="47"/><text class="tt" x="840" y="1708.5">#020</text><text class="ts" x="840" y="1730">t=134</text></g>
<g id="p7a-b3b"><rect class="ng" x="1071" y="1691" width="72" height="47"/><text class="tt" x="1107" y="1708.5">#b3b</text><text class="ts" x="1107" y="1730">t=147</text></g>
<g id="p7a-761"><rect class="nw" x="1193" y="1691" width="72" height="47"/><text class="tt" x="1229" y="1708.5">#761</text><text class="ts" x="1229" y="1730">t=168</text></g>
<g id="p7a-eec"><rect class="nw" x="1314" y="1691" width="72" height="47"/><text class="tt" x="1350" y="1708.5">#eec</text><text class="ts" x="1350" y="1730">t=173</text></g>
<g id="p7a-c32"><rect class="nw" x="1437" y="1691" width="72" height="47"/><text class="tt" x="1473" y="1708.5">#c32</text><text class="ts" x="1473" y="1730">t=219</text></g>
<g id="p7a-1b0"><rect class="np" x="683" y="1790" width="72" height="47"/><text class="tt" x="719" y="1807.5">#1b0</text><text class="ts" x="719" y="1829">t=151</text></g>
<g id="p7a-566"><rect class="nw" x="804" y="1790" width="72" height="47"/><text class="tt" x="840" y="1807.5">#566</text><text class="ts" x="840" y="1829">t=162</text></g>
<g id="p7a-413"><rect class="nw" x="926" y="1790" width="72" height="47"/><text class="tt" x="962" y="1807.5">#413</text><text class="ts" x="962" y="1829">t=201</text></g>
<g id="p7a-c37"><rect class="nw" x="1049" y="1790" width="72" height="47"/><text class="tt" x="1085" y="1807.5">#c37</text><text class="ts" x="1085" y="1829">t=202</text></g>

<g id="p6b-af9"><rect class="ng" x="445" y="1991" width="72" height="47"/><text class="tt" x="481" y="2008.5">#af9</text><text class="ts" x="481" y="2030">t=100</text></g>
<g id="p6b-441"><rect class="ng" x="565" y="1991" width="72" height="47"/><text class="tt" x="601" y="2008.5">#441</text><text class="ts" x="601" y="2030">t=112</text></g>
<g id="p6b-6ef"><rect class="ng" x="684" y="1991" width="72" height="47"/><text class="tt" x="720" y="2008.5">#6ef</text><text class="ts" x="720" y="2030">t=121</text></g>
<g id="p6b-020"><rect class="nw" x="804" y="1991" width="72" height="47"/><text class="tt" x="840" y="2008.5">#020</text><text class="ts" x="840" y="2030">t=134</text></g>
<g id="p6b-b3b"><rect class="nw" x="1070" y="1991" width="72" height="47"/><text class="tt" x="1106" y="2008.5">#b3b</text><text class="ts" x="1106" y="2030">t=147</text></g>
<g id="p6b-761"><rect class="nw" x="1192" y="1991" width="72" height="47"/><text class="tt" x="1228" y="2008.5">#761</text><text class="ts" x="1228" y="2030">t=168</text></g>
<g id="p6b-eec"><rect class="nw" x="1312" y="1991" width="72" height="47"/><text class="tt" x="1348" y="2008.5">#eec</text><text class="ts" x="1348" y="2030">t=173</text></g>
<g id="p6b-1b0"><rect class="nw" x="684" y="2090" width="72" height="47"/><text class="tt" x="720" y="2107.5">#1b0</text><text class="ts" x="720" y="2129">t=151</text></g>
<g id="p6b-566"><rect class="nw" x="804" y="2090" width="72" height="47"/><text class="tt" x="840" y="2107.5">#566</text><text class="ts" x="840" y="2129">t=162</text></g>
<g id="p6b-413"><rect class="nw" x="922" y="2090" width="72" height="47"/><text class="tt" x="958" y="2107.5">#413</text><text class="ts" x="958" y="2129">t=201</text></g>
<g id="p6b-c37"><rect class="nw" x="1045" y="2091" width="72" height="47"/><text class="tt" x="1081" y="2108.5">#c37</text><text class="ts" x="1081" y="2130">t=202</text></g>

<g id="p7b-af9"><rect class="ng" x="445" y="2264" width="72" height="47"/><text class="tt" x="481" y="2281.5">#af9</text><text class="ts" x="481" y="2303">t=100</text></g>
<g id="p7b-441"><rect class="ng" x="566" y="2264" width="72" height="47"/><text class="tt" x="602" y="2281.5">#441</text><text class="ts" x="602" y="2303">t=112</text></g>
<g id="p7b-6ef"><rect class="ng" x="685" y="2264" width="72" height="47"/><text class="tt" x="721" y="2281.5">#6ef</text><text class="ts" x="721" y="2303">t=121</text></g>
<g id="p7b-020"><rect class="nr" x="805" y="2264" width="72" height="47"/><text class="tt" x="841" y="2281.5">#020</text><text class="ts" x="841" y="2303">t=134</text></g>
<g id="p7b-b3b"><rect class="nr" x="1073" y="2264" width="72" height="47"/><text class="tt" x="1109" y="2281.5">#b3b</text><text class="ts" x="1109" y="2303">t=147</text></g>
<g id="p7b-761"><rect class="nr" x="1196" y="2264" width="72" height="47"/><text class="tt" x="1232" y="2281.5">#761</text><text class="ts" x="1232" y="2303">t=168</text></g>
<g id="p7b-eec"><rect class="nr" x="1316" y="2264" width="72" height="47"/><text class="tt" x="1352" y="2281.5">#eec</text><text class="ts" x="1352" y="2303">t=173</text></g>
<g id="p7b-737"><rect class="nw" x="1435" y="2264" width="72" height="47"/><text class="tt" x="1471" y="2281.5">#737</text><text class="ts" x="1471" y="2303">t=219</text></g>
<g id="p7b-1b0"><rect class="ng" x="685" y="2363" width="72" height="47"/><text class="tt" x="721" y="2380.5">#1b0</text><text class="ts" x="721" y="2402">t=151</text></g>
<g id="p7b-566"><rect class="ng" x="805" y="2363" width="72" height="47"/><text class="tt" x="841" y="2380.5">#566</text><text class="ts" x="841" y="2402">t=162</text></g>
<g id="p7b-413"><rect class="ng" x="924" y="2363" width="72" height="47"/><text class="tt" x="960" y="2380.5">#413</text><text class="ts" x="960" y="2402">t=201</text></g>
<g id="p7b-c37"><rect class="ng" x="1047" y="2363" width="72" height="47"/><text class="tt" x="1083" y="2380.5">#c37</text><text class="ts" x="1083" y="2402">t=202</text></g>
<g id="p7b-2b2"><rect class="nw" x="1170" y="2363" width="72" height="47"/><text class="tt" x="1206" y="2380.5">#2b2</text><text class="ts" x="1206" y="2402">t=261</text></g>
<g id="p7b-908"><rect class="nw" x="1288" y="2363" width="72" height="47"/><text class="tt" x="1324" y="2380.5">#908</text><text class="ts" x="1324" y="2402">t=262</text></g>
</g>
</svg>
